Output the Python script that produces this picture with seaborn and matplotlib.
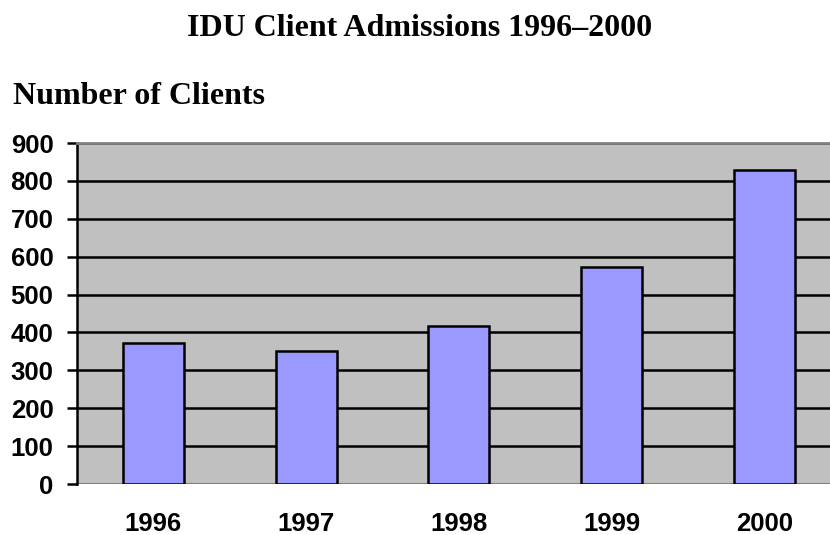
import matplotlib
matplotlib.use("Agg")
import matplotlib.pyplot as plt
import seaborn as sns
import pandas as pd

years = ["1996", "1997", "1998", "1999", "2000"]
clients = [373, 351, 417, 572, 829]
y_ticks = [0, 100, 200, 300, 400, 500, 600, 700, 800, 900]

df = pd.DataFrame({"year": years, "clients": clients})

sns.set_style("white")
plt.rcParams["font.family"] = ["Liberation Sans", "DejaVu Sans"]
plt.rcParams["text.color"] = "black"
plt.rcParams["xtick.color"] = "black"
plt.rcParams["ytick.color"] = "black"

fig = plt.figure(figsize=(8.3, 5.35), dpi=100)
ax = fig.add_axes([0.0928, 0.0953, 0.92, 0.6374])
ax.set_facecolor("#C0C0C0")

sns.barplot(data=df, x="year", y="clients", color="#9999FF", width=0.4,
            edgecolor="black", linewidth=1.8, saturation=1, ax=ax, zorder=3)

ax.set_ylim(0, 900)
ax.set_xlim(-0.5, 4.5)
ax.set_yticks(y_ticks)
for t in y_ticks[1:]:
    ax.axhline(t, color="black", lw=1.8, zorder=1)

for s in ["right", "bottom"]:
    ax.spines[s].set_visible(False)
ax.spines["top"].set_color("#808080")
ax.spines["top"].set_linewidth(2)
ax.spines["left"].set_color("black")
ax.spines["left"].set_linewidth(1.8)
ax.axhline(0, color="#808080", lw=1.5, zorder=2)

ax.tick_params(axis="y", length=7, width=1.8, color="black", pad=10,
               labelsize=18.5, left=True, labelcolor="black")
ax.tick_params(axis="x", length=0, pad=20, labelsize=18.5, labelcolor="black")
for lab in ax.get_yticklabels() + ax.get_xticklabels():
    lab.set_fontweight("bold")
ax.set_xlabel("")
ax.set_ylabel("")

fig.text(0.506, 0.947, "IDU Client Admissions 1996\u20132000", ha="center", va="center",
         fontsize=23, fontweight="bold", color="black",
         family=["Liberation Serif", "DejaVu Serif"])
fig.text(0.0157, 0.819, "Number of Clients", ha="left", va="center",
         fontsize=23, fontweight="bold", color="black",
         family=["Liberation Serif", "DejaVu Serif"])

fig.savefig("out.png", dpi=100)
